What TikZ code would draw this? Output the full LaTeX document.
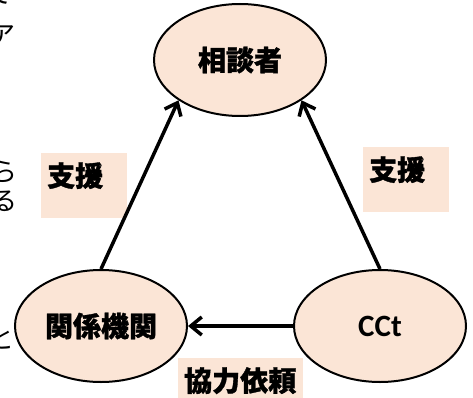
\documentclass[tikz,border=0pt]{standalone}
\usepackage{fontspec}
\newfontfamily\jpfont{Noto Sans CJK JP}[BoldFeatures={FakeBold=1.2}]
\newfontfamily\latfont{Carlito}
\usetikzlibrary{shapes.geometric,arrows.meta}
\definecolor{peach}{HTML}{FBE5D6}
\tikzset{
  party/.style={ellipse, draw, line width=2pt, fill=peach, inner sep=0pt,
    minimum width=172pt, minimum height=112pt,
    font=\jpfont\bfseries\fontsize{28}{30}\selectfont},
  labelbox/.style={fill=peach, anchor=north west, inner xsep=6pt, inner ysep=0pt,
    text height=33pt, align=left,
    font=\jpfont\bfseries\fontsize{28}{30}\selectfont},
  flow/.style={line width=3.5pt, -{Straight Barb[length=11pt,width=18pt]}},
  frag/.style={inner sep=0pt, font=\jpfont\fontsize{26}{26}\selectfont}
}
\begin{document}
\begin{tikzpicture}[x=1pt,y=-1pt]
\useasboundingbox (0,0) rectangle (473,398);
% text cut off at the left edge
\node[frag] (fragA) at (0,-6) {て};
\node[frag] (fragB) at (3,36) {ア};
\node[frag] (fragC) at (4,172) {ら};
\node[frag] (fragD) at (4,201) {る};
\node[frag] (fragE) at (2,339) {と};
% the three parties
\node[party] (sodan) at (240,60) {相談者};
\node[party] (kikan) at (101,326) {関係機関};
\node[party, font=\latfont\bfseries\fontsize{31}{33}\selectfont] (cct) at (380,326) {CCt};
% labels
\node[labelbox, text width=74pt, text depth=32pt] (shienL) at (41,153) {支援};
\node[labelbox, text width=74pt, text depth=32pt] (shienR) at (363,147) {支援};
\node[labelbox, text width=113pt, text depth=30pt] (kyoryoku) at (178,358) {協力依頼};
% arrows
\draw[flow] (kikan.north) -- (sodan.south west);
\draw[flow] (cct.north) -- (sodan.south east);
\draw[flow] (cct) -- (kikan);
\end{tikzpicture}
\end{document}
